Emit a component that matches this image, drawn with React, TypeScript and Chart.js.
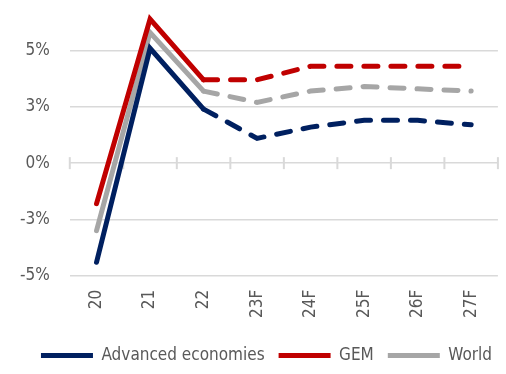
import React, { useEffect, useRef } from "react";
import { Chart, registerables } from "chart.js";

Chart.register(...registerables);

const categories = ["20", "21", "22", "23F", "24F", "25F", "26F", "27F"];
const advancedEconomies = [-4.4, 5.1, 2.4, 1.1, 1.6, 1.9, 1.9, 1.7];
const gem = [-1.8, 6.4, 3.7, 3.7, 4.3, 4.3, 4.3, 4.3];
const world = [-3.0, 5.8, 3.2, 2.7, 3.2, 3.4, 3.3, 3.2];

const FONT = "'DejaVu Sans Condensed', 'Liberation Sans Narrow', sans-serif";
const FONT_SIZE = 17;
const TEXT = "#595959";
const GRID = "#d9d9d9";

// Short tick marks crossing the zero line at every category boundary
const zeroTicks = {
  id: "zeroTicks",
  beforeDatasetsDraw(chart: any) {
    const x = chart.scales.x;
    const y = chart.scales.y;
    const y0 = y.getPixelForValue(0);
    const ctx = chart.ctx;
    ctx.save();
    ctx.strokeStyle = GRID;
    ctx.lineWidth = 2;
    for (let i = 0; i <= categories.length; i++) {
      const px = x.getPixelForValue(i - 0.5);
      ctx.beginPath();
      ctx.moveTo(px, y0 - 6);
      ctx.lineTo(px, y0 + 6);
      ctx.stroke();
    }
    ctx.restore();
  },
};

// Nudge the legend row a little to the right of the canvas centre
const legendShift = {
  id: "legendShift",
  afterLayout(chart: any) {
    const l = chart.legend;
    if (l) {
      l.left += 17;
      l.right += 17;
    }
  },
};

// Forecast years (from 22 onward) are dashed
const forecastDash = (ctx: any) => (ctx.p0DataIndex >= 2 ? [14, 13] : undefined);

function series(label: string, data: number[], color: string) {
  return {
    label,
    data,
    borderColor: color,
    backgroundColor: color,
    borderWidth: 5,
    borderCapStyle: "round" as const,
    borderJoinStyle: "miter" as const,
    pointRadius: 0,
    pointHoverRadius: 0,
    tension: 0,
    segment: { borderDash: forecastDash },
  };
}

// Whole-percent labels, halves rounded away from zero
const pct = (v: any) => {
  const n = Number(v);
  const r = Math.round(Math.abs(n));
  return `${n < 0 && r !== 0 ? "-" : ""}${r}%`;
};

export default function App() {
  const canvasRef = useRef<HTMLCanvasElement>(null);

  useEffect(() => {
    document.body.style.margin = "0";
    const chart = new Chart(canvasRef.current!, {
      type: "line",
      data: {
        labels: categories,
        datasets: [
          series("Advanced economies", advancedEconomies, "#002060"),
          series("GEM", gem, "#c00000"),
          series("World", world, "#a6a6a6"),
        ],
      },
      options: {
        animation: false,
        responsive: false,
        layout: { padding: { top: 10, right: 7, left: 0, bottom: 0 } },
        plugins: {
          tooltip: { enabled: false },
          legend: {
            position: "bottom",
            labels: {
              usePointStyle: true,
              pointStyle: "line",
              pointStyleWidth: 52,
              boxHeight: FONT_SIZE,
              padding: 14,
              color: TEXT,
              font: { family: FONT, size: FONT_SIZE },
            },
          },
        },
        scales: {
          x: {
            offset: true,
            grid: { display: false, drawTicks: false },
            border: { display: false },
            afterFit: (s: any) => {
              s.height += 1;
            },
            ticks: {
              color: TEXT,
              font: { family: FONT, size: FONT_SIZE },
              minRotation: 90,
              maxRotation: 90,
              padding: 14,
            },
          },
          y: {
            min: -5,
            max: 6.8,
            grid: { color: GRID, lineWidth: 1.5, drawTicks: false },
            border: { display: false },
            afterFit: (s: any) => {
              s.paddingTop = 0;
            },
            ticks: {
              stepSize: 2.5,
              includeBounds: false,
              padding: 20,
              color: TEXT,
              font: { family: FONT, size: FONT_SIZE },
              callback: pct,
            },
          },
        },
      },
      plugins: [zeroTicks, legendShift],
    });
    return () => chart.destroy();
  }, []);

  return (
    <div style={{ width: 506, height: 374 }}>
      <canvas ref={canvasRef} width={506} height={374} />
    </div>
  );
}
